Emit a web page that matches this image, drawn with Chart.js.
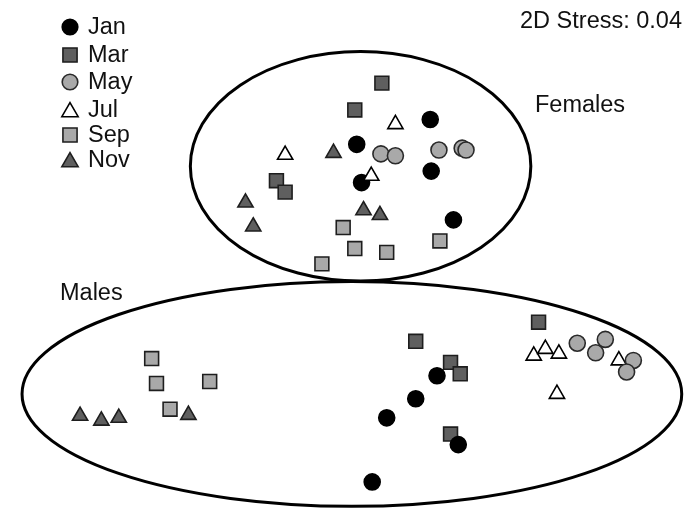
<!DOCTYPE html>
<html>
<head>
<meta charset="utf-8">
<script src="https://cdn.jsdelivr.net/npm/chart.js@4/dist/chart.umd.min.js"></script>
<style>
  html, body { margin: 0; padding: 0; background: #fff; }
  #wrap { width: 697px; height: 522px; position: relative; }
</style>
</head>
<body>
<div id="wrap"><canvas id="myChart"></canvas></div>
<script>
// NMDS ordination scores (axis 1, axis 2)
const months = ['Jan', 'Mar', 'May', 'Jul', 'Sep', 'Nov'];

const janX = [0.415, 0.035, 0.06, 0.42, 0.535, 0.45, 0.34, 0.19, 0.56, 0.115];
const janY = [0.74, 0.61, 0.41, 0.47, 0.215, -0.60, -0.72, -0.82, -0.96, -1.155];

const marX = [0.165, 0.025, -0.38, -0.335, 0.975, 0.34, 0.52, 0.57, 0.52];
const marY = [0.93, 0.79, 0.42, 0.36, -0.32, -0.42, -0.53, -0.59, -0.905];

const mayX = [0.16, 0.235, 0.46, 0.58, 0.60, 1.175, 1.32, 1.27, 1.465, 1.43];
const mayY = [0.56, 0.55, 0.58, 0.59, 0.58, -0.43, -0.41, -0.48, -0.52, -0.58];

const julX = [0.235, -0.335, 0.11, 0.95, 1.01, 1.08, 1.39, 1.07];
const julY = [0.715, 0.555, 0.445, -0.495, -0.46, -0.485, -0.52, -0.695];

const sepX = [-0.035, 0.025, 0.19, 0.465, -0.145, -1.025, -1.0, -0.725, -0.93];
const sepY = [0.175, 0.065, 0.045, 0.105, -0.015, -0.51, -0.64, -0.63, -0.775];

const novX = [-0.085, -0.54, -0.5, 0.07, 0.155, -1.395, -1.285, -1.195, -0.835];
const novY = [0.565, 0.305, 0.18, 0.265, 0.24, -0.81, -0.835, -0.82, -0.805];

// group ellipses: centre x, centre y, radius x, radius y
const groupNames = ['Females', 'Males'];
const groupEllipses = [
  [0.055, 0.495, 0.88, 0.60],
  [0.01, -0.695, 1.705, 0.5875]
];

const stressLabel = '2D Stress: 0.04';

const FONT = '"Liberation Sans", Arial, sans-serif';

function toPoints(xs, ys) {
  return xs.map((x, i) => ({ x, y: ys[i] }));
}

const styles = {
  Jan: { pointStyle: 'circle', radius: 8, backgroundColor: '#000000', borderColor: '#000000', order: 2 },
  Mar: { pointStyle: 'rect', radius: 9.8, backgroundColor: '#5f5f5f', borderColor: '#1e1e1e', order: 3 },
  May: { pointStyle: 'circle', radius: 8, backgroundColor: '#a9a9a9', borderColor: '#2a2a2a', order: 0 },
  Jul: { pointStyle: 'triangle', radius: 8.8, backgroundColor: '#ffffff', borderColor: '#000000', order: 1 },
  Sep: { pointStyle: 'rect', radius: 9.8, backgroundColor: '#a9a9a9', borderColor: '#1e1e1e', order: 4 },
  Nov: { pointStyle: 'triangle', radius: 8.8, backgroundColor: '#5f5f5f', borderColor: '#1e1e1e', order: 5 }
};

const seriesData = {
  Jan: toPoints(janX, janY),
  Mar: toPoints(marX, marY),
  May: toPoints(mayX, mayY),
  Jul: toPoints(julX, julY),
  Sep: toPoints(sepX, sepY),
  Nov: toPoints(novX, novY)
};

const datasets = months.map(m => ({
  label: m,
  data: seriesData[m],
  pointStyle: styles[m].pointStyle,
  pointRadius: styles[m].radius,
  pointBackgroundColor: styles[m].backgroundColor,
  pointBorderColor: styles[m].borderColor,
  pointBorderWidth: 1.6,
  showLine: false,
  order: styles[m].order
}));

// ellipses behind the points
const ellipsePlugin = {
  id: 'ellipses',
  beforeDatasetsDraw(chart) {
    const { ctx, scales: { x, y } } = chart;
    ctx.save();
    ctx.lineWidth = 3;
    ctx.strokeStyle = '#000';
    groupEllipses.forEach(([cx, cy, rx, ry]) => {
      const px = x.getPixelForValue(cx);
      const py = y.getPixelForValue(cy);
      const prx = Math.abs(x.getPixelForValue(cx + rx) - px);
      const pry = Math.abs(y.getPixelForValue(cy + ry) - py);
      ctx.beginPath();
      ctx.ellipse(px, py, prx, pry, 0, 0, Math.PI * 2);
      ctx.stroke();
    });
    ctx.restore();
  }
};

// legend, group names and stress value
const labelsPlugin = {
  id: 'labels',
  afterDraw(chart) {
    const { ctx } = chart;
    ctx.save();
    ctx.fillStyle = '#111';
    ctx.font = '23.5px ' + FONT;

    ctx.textAlign = 'right';
    ctx.textBaseline = 'alphabetic';
    ctx.fillText(stressLabel, 682, 28);

    ctx.textAlign = 'left';
    ctx.fillText(groupNames[0], 535, 112);
    ctx.fillText(groupNames[1], 60, 300);

    const rowY = [27, 55, 82, 110, 135, 160];
    months.forEach((m, i) => {
      const s = styles[m];
      const r = s.pointStyle === 'rect' ? 10 : (s.pointStyle === 'triangle' ? 9.4 : 7.8);
      const yy = rowY[i] + (s.pointStyle === 'triangle' ? 2 : 0);
      ctx.fillStyle = s.backgroundColor;
      ctx.strokeStyle = s.borderColor;
      ctx.lineWidth = 1.6;
      Chart.helpers.drawPoint(ctx, { pointStyle: s.pointStyle, radius: r, borderWidth: 1.6 }, 70, yy);
      ctx.fillStyle = '#111';
      ctx.textBaseline = 'middle';
      ctx.fillText(m, 88, rowY[i] + 1);
    });
    ctx.restore();
  }
};

const chart = new Chart(document.getElementById('myChart'), {
  type: 'scatter',
  data: { datasets },
  options: {
    responsive: true,
    maintainAspectRatio: false,
    animation: false,
    layout: { padding: 0 },
    plugins: {
      legend: { display: false },
      tooltip: { enabled: false }
    },
    scales: {
      x: { type: 'linear', min: -1.75, max: 1.735, display: false },
      y: { type: 'linear', min: -1.305, max: 1.305, display: false }
    }
  },
  plugins: [ellipsePlugin, labelsPlugin]
});
</script>
</body>
</html>
